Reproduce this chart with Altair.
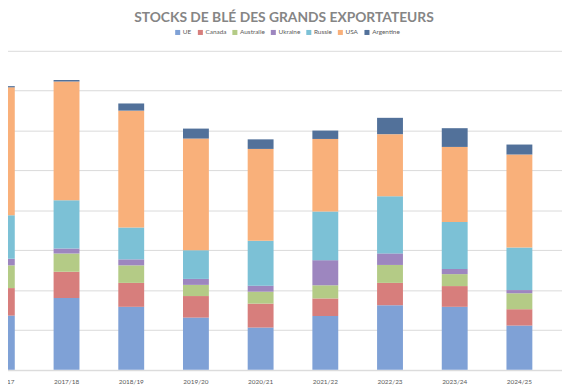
import altair as alt
import pandas as pd

years = ["2016/17", "2017/18", "2018/19", "2019/20", "2020/21",
         "2021/22", "2022/23", "2023/24", "2024/25"]
series = ["UE", "Canada", "Australie", "Ukraine", "Russie", "USA", "Argentine"]

ue = [13.6, 18.0, 15.8, 13.1, 10.6, 13.5, 16.2, 15.8, 11.1]
canada = [6.9, 6.6, 6.0, 5.4, 6.0, 4.4, 5.6, 5.2, 4.1]
australie = [5.7, 4.6, 4.4, 2.8, 3.0, 3.3, 4.5, 3.0, 4.0]
ukraine = [1.65, 1.2, 1.5, 1.5, 1.5, 6.3, 2.9, 1.3, 0.8]
russie = [10.9, 12.1, 8.0, 7.2, 11.3, 12.2, 14.3, 11.8, 10.7]
usa = [32.1, 29.8, 29.3, 28.0, 23.0, 18.2, 15.6, 18.8, 23.3]
argentine = [0.3, 0.4, 1.8, 2.5, 2.4, 2.1, 4.1, 4.7, 2.5]

grid_values = [0, 10, 20, 30, 40, 50, 60, 70, 80]

colors = ["#7FA1D6", "#D77E7C", "#B4CB86", "#9D86BF", "#7CC1D6", "#F9B07A", "#52719A"]

values = [ue, canada, australie, ukraine, russie, usa, argentine]
rows = []
for i, (name, vals) in enumerate(zip(series, values)):
    for y, v in zip(years, vals):
        rows.append({"annee": y, "pays": name, "stock": v, "ordre": i})
df = pd.DataFrame(rows)

font = "Lato"

chart = alt.Chart(df).mark_bar().encode(
    x=alt.X("annee:N", sort=years, title=None,
            scale=alt.Scale(paddingInner=0.6, paddingOuter=0.3795, align=0.396, round=False),
            axis=alt.Axis(labelAngle=0, labelFontSize=6.5, labelColor="#595959", labelFont=font,
                          labelPadding=9, ticks=False, domainColor="#D9D9D9", domainWidth=1)),
    y=alt.Y("stock:Q", stack="zero", title=None,
            scale=alt.Scale(domain=[0, 80.5], nice=False),
            axis=alt.Axis(values=grid_values, grid=True,
                          gridColor="#D9D9D9", gridWidth=1, domain=False, ticks=False,
                          labels=False)),
    color=alt.Color("pays:N", scale=alt.Scale(domain=series, range=colors),
                    legend=alt.Legend(orient="none", direction="horizontal", title=None,
                                      legendX=208, legendY=-20, symbolType="square",
                                      symbolSize=26, symbolStrokeWidth=0, labelFontSize=6.5,
                                      labelFont=font, labelColor="#595959", labelOffset=2,
                                      columnPadding=5)),
    order=alt.Order("ordre:Q", sort="ascending"),
).properties(
    width=601.1,
    height=325.6,
    title=alt.TitleParams("STOCKS DE BLÉ DES GRANDS EXPORTATEURS", anchor="middle", frame="group",
                          font=font, fontSize=14, fontWeight="bold", color="#858585",
                          dx=18.5, offset=4),
    autosize=alt.AutoSizeParams(type="none"),
    padding={"left": -39.1, "top": 38.7, "right": 0, "bottom": 14.7},
).configure_view(strokeWidth=0)

chart.save("out.html", embed_options={"renderer": "svg", "actions": False})
